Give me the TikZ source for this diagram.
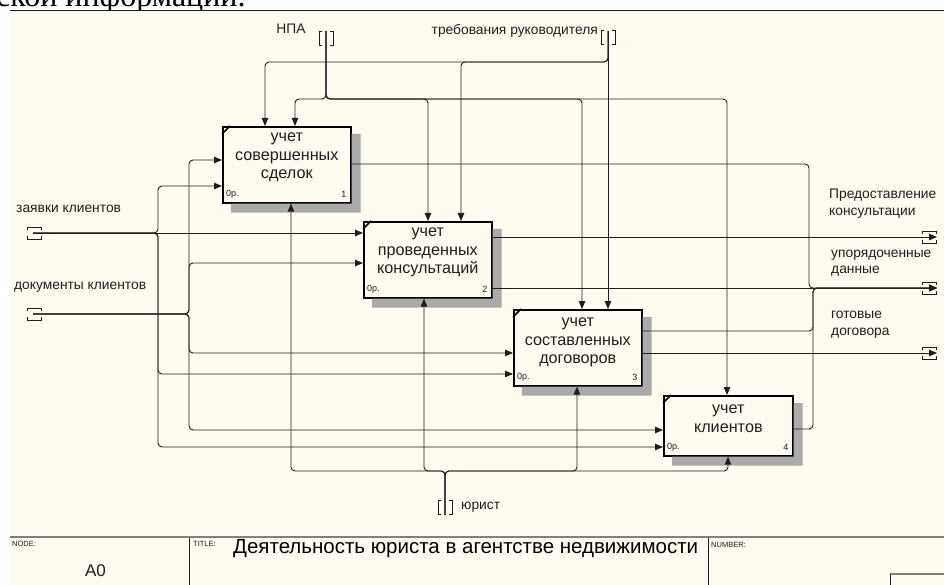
\documentclass[tikz,border=0pt]{standalone}
\usepackage{fontspec}
\setmainfont{Liberation Sans}
\newfontfamily\serifx{Liberation Serif}
\usetikzlibrary{arrows.meta}
\definecolor{paper}{RGB}{255,251,240}
\definecolor{ink}{RGB}{30,30,30}
\definecolor{hatchgray}{RGB}{170,170,170}
\definecolor{rulegray}{RGB}{128,128,128}
\tikzset{
  conn/.style={draw=ink, line width=0.9pt, rounded corners=4pt},
  arr/.style={conn, -{Triangle[length=8pt,width=6.5pt]}},
  procbox/.style={draw=black, line width=1.6pt, fill=paper, anchor=north west,
    inner sep=0pt, minimum width=128pt, minimum height=76pt},
  boxtext/.style={anchor=north, align=center, text=ink, inner sep=0pt,
    font=\fontsize{16.2}{18.8}\selectfont},
  tag/.style={font=\fontsize{9}{10}\selectfont, inner sep=0pt, text=ink},
  lbl/.style={font=\fontsize{13.8}{16.5}\selectfont, inner sep=0pt, text=ink, align=left},
  tiny/.style={font=\fontsize{7.5}{8}\selectfont, inner sep=0pt, text=ink, anchor=west},
  tun/.style={draw=ink, line width=0.8pt},
  vtun/.pic={\draw[tun] (-4,-7) -- (-7,-7) -- (-7,7) -- (-4,7);
             \draw[tun] (4,-7) -- (7,-7) -- (7,7) -- (4,7);},
  htun/.pic={\draw[tun] (-7,-3) -- (-7,-6) -- (7,-6) -- (7,-3);
             \draw[tun] (-7,3) -- (-7,6) -- (7,6) -- (7,3);},
}
% hatched drop shadow to the lower right of an activity box
\newcommand\dropshade[1]{%
  \fill[hatchgray] ([yshift=-8pt]#1.north east) -- ([xshift=9pt,yshift=-8pt]#1.north east)
    -- ([xshift=9pt,yshift=-9pt]#1.south east) -- ([xshift=9pt,yshift=-9pt]#1.south west)
    -- ([xshift=9pt]#1.south west) -- (#1.south east) -- cycle;}
% corner mark, cost tag and box number
\newcommand\boxmarks[2]{%
  \draw[line width=1.6pt] ([yshift=-8pt]#1.north west) -- ([xshift=8pt]#1.north west);
  \node[tag, anchor=west] (#1c) at ([xshift=4pt,yshift=9pt]#1.south west) {0р.};
  \node[tag, anchor=east] (#1n) at ([xshift=-5pt,yshift=9pt]#1.south east) {#2};}
\begin{document}
\begin{tikzpicture}[x=1pt,y=-1pt]
\useasboundingbox (0,0) rectangle (944,585);
\fill[white] (0,0) rectangle (944,585);
\fill[paper] (10,10) rectangle (944,585);

% running text of the page, cut by the sheet edge
\begin{scope}
  \clip (0,0) rectangle (944,10);
  \node[anchor=base west, inner sep=0pt, font=\serifx\fontsize{32}{32}\selectfont] (pagetext) at (-4,7) {ской информации.};
\end{scope}
\draw[ink, line width=0.9pt] (10,10.5) -- (944,10.5);

% activity boxes
\node[procbox] (b1) at (222,126) {};
\node[procbox] (b2) at (363,221) {};
\node[procbox] (b3) at (513,309) {};
\node[procbox, minimum width=129pt, minimum height=60pt] (b4) at (663,395) {};
\dropshade{b1}\dropshade{b2}\dropshade{b3}\dropshade{b4}
\boxmarks{b1}{1}\boxmarks{b2}{2}\boxmarks{b3}{3}\boxmarks{b4}{4}
\node[boxtext] (t1) at ([yshift=-2pt]b1.north) {\strut учет\\совершенных\\сделок};
\node[boxtext] (t2) at ([yshift=-2pt]b2.north) {\strut учет\\проведенных\\консультаций};
\node[boxtext] (t3) at ([yshift=-4pt]b3.north) {\strut учет\\составленных\\договоров};
\node[boxtext] (t4) at ([yshift=-5pt]b4.north) {\strut учет\\клиентов};

% boundary arrow ends
\coordinate (npa) at (326,31);
\coordinate (treb) at (608,31);
\coordinate (jur) at (445,515);
\coordinate (zay) at (33,233);
\coordinate (doc) at (33,314);
\coordinate (out1) at (937,237);
\coordinate (out2) at (937,288);
\coordinate (out3) at (937,353);
\pic at (326,38) {vtun};
\pic at (608,37) {vtun};
\pic at (445,507) {vtun};
\pic at (34,233) {htun};
\pic at (34,314) {htun};
\pic at (929,237) {htun};
\pic at (929,288) {htun};
\pic at (929,353) {htun};

% boundary labels
\node[lbl] (lnpa) at (291,29) {НПА};
\node[lbl, anchor=east] (ltreb) at (598,31) {требования руководителя};
\node[lbl, anchor=west] (lzay) at (16,209) {заявки клиентов};
\node[lbl, anchor=west] (ldoc) at (14,287) {документы клиентов};
\node[lbl, anchor=west] (lout1) at (829,203.5) {Предоставление\\консультации};
\node[lbl, anchor=west] (lout2) at (831,263) {упорядоченные\\данные};
\node[lbl, anchor=west] (lout3) at (831,324.5) {готовые\\договора};
\node[lbl, anchor=west] (ljur) at (461,507) {юрист};

% controls: НПА
\draw[arr] (npa) -- ++(0,68) -| ([xshift=73pt]b1.north west);
\draw[arr] (npa) -- ++(0,68) -| ([xshift=65pt]b2.north west);
\draw[arr] (npa) -- ++(0,68) -| ([xshift=69pt]b3.north west);
\draw[arr] (npa) -- ++(0,68) -| ([xshift=64pt]b4.north west);
% controls: требования руководителя
\draw[arr] (treb) -- ++(0,31) -| ([xshift=43pt]b1.north west);
\draw[arr] (treb) -- ++(0,31) -| ([xshift=98pt]b2.north west);
\draw[arr] (treb) -- (treb |- b3.north);

% inputs: заявки клиентов
\draw[arr] (zay) -- ++(125,0) |- ([yshift=-60pt]b1.north west);
\draw[arr] (zay) -- (zay -| b2.west);
\draw[arr] (zay) -- ++(125,0) |- ([yshift=-65pt]b3.north west);
\draw[arr] (zay) -- ++(125,0) |- ([yshift=-52pt]b4.north west);
% inputs: документы клиентов
\draw[arr] (doc) -- ++(156,0) |- ([yshift=-34pt]b1.north west);
\draw[arr] (doc) -- ++(156,0) |- ([yshift=-42pt]b2.north west);
\draw[arr] (doc) -- ++(156,0) |- ([yshift=-44pt]b3.north west);
\draw[arr] (doc) -- ++(156,0) |- ([yshift=-35pt]b4.north west);

% mechanism: юрист
\draw[arr] (jur) -- ++(0,-44) -| ([xshift=69pt]b1.south west);
\draw[arr] (jur) -- ++(0,-44) -| ([xshift=61pt]b2.south west);
\draw[arr] (jur) -- ++(0,-44) -| ([xshift=64pt]b3.south west);
\draw[arr] (jur) -- ++(0,-44) -| ([xshift=65pt]b4.south west);

% outputs
\draw[arr] ([yshift=-16pt]b2.north east) -- (out1);
\draw[arr] ([yshift=-67pt]b2.north east) -- (out2);
\draw[arr] ([yshift=-38pt]b1.north east) -| ([xshift=-128pt]out2) -- (out2);
\draw[arr] ([yshift=-22pt]b3.north east) -| ([xshift=-124pt]out2) -- (out2);
\draw[arr] ([yshift=-34pt]b4.north east) -| ([xshift=-124pt]out2) -- (out2);
\draw[arr] ([yshift=-44pt]b3.north east) -- (out3);

% title block
\draw[rulegray, line width=1.5pt] (10,537) -- (944,537);
\draw[ink, line width=0.9pt] (189.5,537.5) -- (189.5,585);
\draw[ink, line width=0.9pt] (708.5,537.5) -- (708.5,585);
\node[tiny] (fnode) at (12,544) {NODE:};
\node[inner sep=0pt, text=ink, font=\fontsize{17}{18}\selectfont] (fnum) at (95.5,571) {A0};
\node[tiny] (ftitle) at (193,544) {TITLE:};
\node[inner sep=0pt, anchor=west, text=black, font=\fontsize{20.5}{22}\selectfont] (ftext) at (233,549) {Деятельность юриста в агентстве недвижимости};
\node[tiny] (fnumber) at (711,545) {NUMBER:};
\draw[rulegray, line width=1.5pt] (890,574) -- (944,574);
\draw[ink, line width=0.9pt] (890.5,574) -- (890.5,585);
\end{tikzpicture}
\end{document}
